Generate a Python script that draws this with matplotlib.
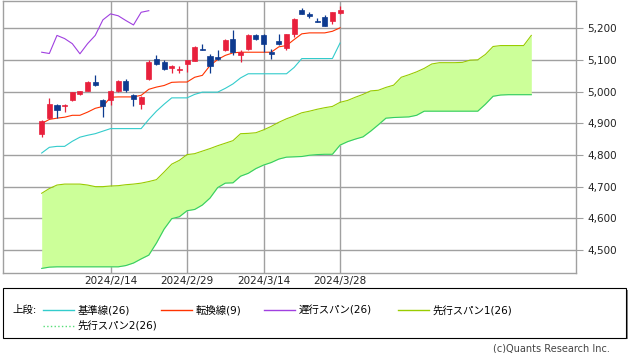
import numpy as np
import matplotlib.pyplot as plt
from matplotlib.patches import Rectangle
from matplotlib.lines import Line2D

plt.rcParams['font.family'] = ['DejaVu Sans', 'Noto Sans CJK JP']

# daily candles (oldest first)
opens = [4865, 4915, 4959, 4953, 4972, 4993, 5002, 5030, 4972, 4974,
         5002, 5032, 4990, 4962, 5038, 5104, 5093, 5074, 5069, 5086,
         5096, 5135, 5111, 5109, 5130, 5167, 5116, 5135, 5179, 5177,
         5124, 5158, 5137, 5182, 5256, 5245, 5224, 5235, 5224, 5248]
highs = [4909, 4978, 4960, 4960, 4998, 5003, 5034, 5051, 4975, 5004,
         5035, 5041, 4993, 4985, 5098, 5114, 5098, 5083, 5079, 5101,
         5144, 5151, 5119, 5130, 5167, 5193, 5130, 5182, 5182, 5182,
         5135, 5182, 5183, 5231, 5264, 5250, 5233, 5240, 5251, 5269]
lows = [4855, 4912, 4918, 4935, 4970, 4988, 5001, 5016, 4920, 4957,
        4998, 4998, 4953, 4946, 5035, 5085, 5069, 5058, 5058, 5061,
        5095, 5130, 5058, 5098, 5128, 5114, 5093, 5132, 5163, 5124,
        5104, 5148, 5132, 5172, 5243, 5233, 5219, 5206, 5214, 5245]
closes = [4906, 4962, 4943, 4959, 4997, 5002, 5030, 5020, 4953, 5002,
          5032, 5004, 4975, 4983, 5093, 5088, 5072, 5082, 5072, 5100,
          5140, 5130, 5082, 5102, 5163, 5124, 5124, 5179, 5167, 5151,
          5117, 5151, 5182, 5230, 5245, 5237, 5219, 5206, 5250, 5258]

tenkan = [4899, 4912, 4916, 4919, 4925, 4925, 4935, 4947, 4953, 4982,
          4983, 4983, 4983, 4988, 5007, 5014, 5019, 5029, 5030, 5030,
          5045, 5051, 5082, 5101, 5114, 5122, 5124, 5124, 5124, 5124,
          5124, 5141, 5145, 5164, 5182, 5185, 5185, 5185, 5190, 5201]
kijun = [4806, 4824, 4827, 4827, 4843, 4856, 4862, 4867, 4875, 4883,
         4883, 4883, 4883, 4883, 4912, 4938, 4960, 4980, 4980, 4980,
         4991, 4998, 4998, 4998, 5010, 5024, 5043, 5056, 5056, 5056,
         5056, 5056, 5056, 5076, 5104, 5104, 5104, 5104, 5104, 5153]
chikou = [5124, 5120, 5177, 5167, 5151, 5119, 5151, 5177, 5226, 5245,
          5239, 5224, 5210, 5250, 5255]

span_a = [4679, 4694, 4705, 4708, 4708, 4708, 4705, 4700, 4700, 4702,
          4703, 4706, 4708, 4711, 4716, 4722, 4746, 4771, 4783, 4801,
          4804, 4812, 4820, 4829, 4837, 4845, 4867, 4868, 4870, 4879,
          4890, 4903, 4914, 4923, 4933, 4938, 4944, 4949, 4953, 4966,
          4972, 4982, 4991, 5002, 5004, 5013, 5020, 5045, 5053, 5062,
          5073, 5087, 5091, 5091, 5091, 5092, 5099, 5100, 5117, 5142,
          5145, 5145, 5145, 5145, 5177]
span_b = [4442, 4446, 4447, 4447, 4447, 4447, 4447, 4447, 4447, 4447,
          4447, 4451, 4459, 4472, 4484, 4522, 4566, 4599, 4605, 4624,
          4628, 4642, 4664, 4697, 4711, 4712, 4733, 4742, 4757, 4768,
          4776, 4787, 4793, 4794, 4795, 4799, 4801, 4802, 4802, 4831,
          4842, 4850, 4857, 4875, 4895, 4916, 4918, 4919, 4920, 4925,
          4938, 4938, 4938, 4938, 4938, 4938, 4938, 4938, 4960, 4985,
          4989, 4990, 4990, 4990, 4990]

date_ticks = [9, 19, 29, 39]
date_labels = ['2024/2/14', '2024/2/29', '2024/3/14', '2024/3/28']
price_ticks = [4500, 4600, 4700, 4800, 4900, 5000, 5100, 5200]

UP = '#e8203c'
DOWN = '#0d3a8f'
GRID = '#a0a0a0'
LW = 0.8

fig = plt.figure(figsize=(6.31, 3.53), dpi=100)
ax = fig.add_axes([0.0052, 0.2258, 0.9076, 0.7714])

# cloud
xs = np.arange(len(span_a))
ax.fill_between(xs, span_a, span_b, color='#ccff99', lw=0, zorder=1)
ax.plot(xs, span_a, color='#99cc00', lw=LW, zorder=2)
ax.plot(xs, span_b, color='#33cc66', lw=LW, zorder=2)

# lines
xc = np.arange(len(closes))
ax.plot(xc, kijun, color='#33cccc', lw=LW, zorder=3)
ax.plot(xc, tenkan, color='#ff3300', lw=LW, zorder=3)
ax.plot(np.arange(len(chikou)), chikou, color='#a040e0', lw=LW, zorder=3)

# candles
for i in range(len(closes)):
    o, h, l, c = opens[i], highs[i], lows[i], closes[i]
    col = UP if c >= o else DOWN
    ax.vlines(i, l, h, color=col, lw=0.9, zorder=4)
    bottom = min(o, c)
    height = max(abs(c - o), 2)
    ax.bar(i, height, bottom=bottom, width=0.66, color=col,
           edgecolor=col, lw=0.5, zorder=5)

ax.set_xlim(-5.02, 69.84)
ax.set_ylim(4426.6, 5285.6)

ax.yaxis.tick_right()
ax.set_yticks(price_ticks)
ax.set_yticklabels(['{:,}'.format(v) for v in price_ticks])
ax.set_xticks(date_ticks)
ax.set_xticklabels(date_labels)
ax.tick_params(axis='y', length=5, color=GRID, labelsize=7.5,
               labelcolor='#222222', pad=3)
ax.tick_params(axis='x', length=0, labelsize=7.5, labelcolor='#222222', pad=2)
ax.grid(True, color=GRID, lw=1.0, zorder=0)
ax.set_axisbelow(True)
for s in ax.spines.values():
    s.set_color(GRID)
    s.set_linewidth(1.0)

# legend box
W, H = 631.0, 353.0
def fx(px):
    return px / W
def fy(py):
    return 1 - py / H

fig.patches.append(Rectangle((fx(5), fy(339)), fx(623), 48.7 / H,
                             transform=fig.transFigure, facecolor='#888888',
                             edgecolor='none', zorder=0))
fig.patches.append(Rectangle((fx(3.3), fy(337.5)), fx(622.7), 49.2 / H,
                             transform=fig.transFigure, facecolor='white',
                             edgecolor='black', lw=0.8, zorder=1))

fig.text(fx(12), fy(310), '上段:', fontsize=7.5, va='center', ha='left')
items = [
    (43, 310, '#33cccc', '-', '基準線(26)'),
    (161, 310, '#ff3300', '-', '転換線(9)'),
    (264, 310, '#a040e0', '-', '遅行スパン(26)'),
    (398, 310, '#99cc00', '-', '先行スパン1(26)'),
    (43, 325.7, '#55dd77', ':', '先行スパン2(26)'),
]
for x0, y0, col, ls, label in items:
    fig.lines.append(Line2D([fx(x0), fx(x0 + 31)], [fy(y0), fy(y0)],
                            transform=fig.transFigure, color=col, lw=1.0,
                            linestyle=ls))
    fig.text(fx(x0 + 35), fy(y0), label, fontsize=7.5, va='center', ha='left')

fig.text(fx(610), fy(348.5), '(c)Quants Research Inc.', fontsize=7,
         va='center', ha='right', color='#444444')

fig.savefig('out.png', dpi=100)
